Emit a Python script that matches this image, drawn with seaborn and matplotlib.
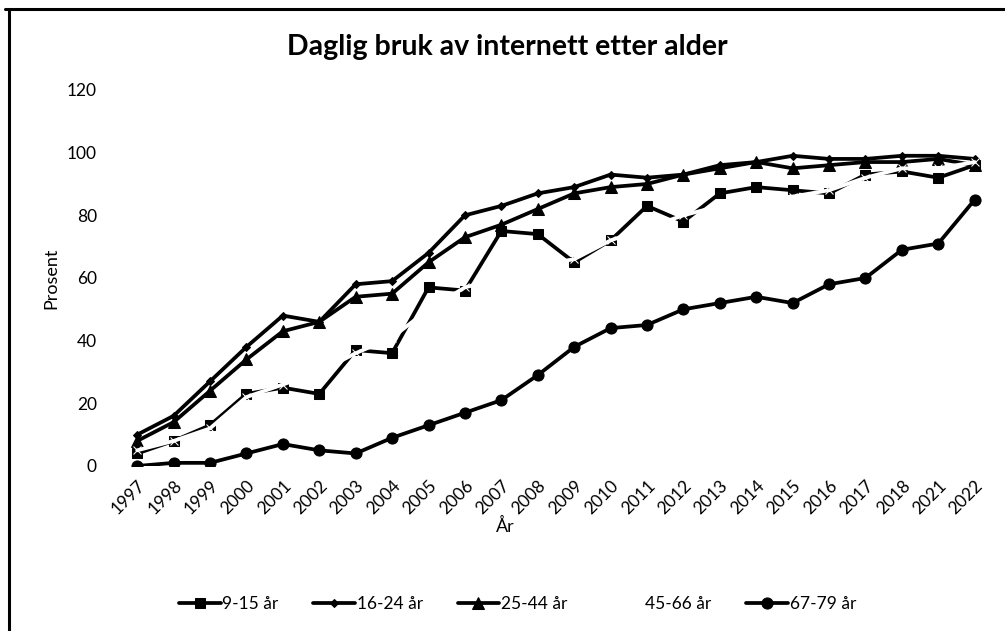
"""Daglig bruk av internett etter alder - line chart."""
import matplotlib
matplotlib.use("Agg")
import matplotlib.pyplot as plt
from matplotlib.lines import Line2D
import numpy as np
import pandas as pd
import seaborn as sns

years = ["1997", "1998", "1999", "2000", "2001", "2002", "2003", "2004",
         "2005", "2006", "2007", "2008", "2009", "2010", "2011", "2012",
         "2013", "2014", "2015", "2016", "2017", "2018", "2021", "2022"]

age_9_15 = [4, 8, 13, 23, 25, 23, 37, 36, 57, 56, 75, 74,
            65, 72, 83, 78, 87, 89, 88, 87, 93, 94, 92, 96]
age_16_24 = [10, 16, 27, 38, 48, 46, 58, 59, 68, 80, 83, 87,
             89, 93, 92, 93, 96, 97, 99, 98, 98, 99, 99, 98]
age_25_44 = [8, 14, 24, 34, 43, 46, 54, 55, 65, 73, 77, 82,
             87, 89, 90, 93, 95, 97, 95, 96, 97, 97, 98, 96]
age_45_66 = [5, 8, 12, 22, 26, 30, 36, 41, 50, 57, 60, 64,
             66, 72, 76, 80, 83, 85, 86, 88, 92, 95, 95, 97]
age_67_79 = [0, 1, 1, 4, 7, 5, 4, 9, 13, 17, 21, 29,
             38, 44, 45, 50, 52, 54, 52, 58, 60, 69, 71, 85]

series = {
    "9-15 år": age_9_15,
    "16-24 år": age_16_24,
    "25-44 år": age_25_44,
    "45-66 år": age_45_66,
    "67-79 år": age_67_79,
}
styles = {
    "9-15 år": dict(color="black", marker="s", markersize=7.5),
    "16-24 år": dict(color="black", marker="D", markersize=4),
    "25-44 år": dict(color="black", marker="^", markersize=8),
    "45-66 år": dict(color="white", marker="x", markersize=6),
    "67-79 år": dict(color="black", marker="o", markersize=8),
}

sns.set_theme(style="white")
plt.rcParams["font.family"] = ["Lato", "DejaVu Sans"]
plt.rcParams["text.color"] = "black"
plt.rcParams["axes.labelcolor"] = "black"
plt.rcParams["xtick.color"] = "black"
plt.rcParams["ytick.color"] = "black"

pos = np.arange(len(years))
df = pd.DataFrame({"pos": pos, **series})

fig = plt.figure(figsize=(10.05, 6.31), dpi=100)
ax = fig.add_axes([0.1184, 0.2615, 0.8696, 0.5959])

for name in series:
    st = styles[name]
    sns.lineplot(data=df, x="pos", y=name, ax=ax, color=st["color"],
                 marker=st["marker"], markersize=st["markersize"],
                 markeredgecolor=st["color"], markerfacecolor=st["color"],
                 linewidth=2.7, label=name)

ax.set_xlim(-0.5, len(years) - 0.5)
ax.set_ylim(0, 120)
ax.set_yticks(range(0, 121, 20))
ax.set_xticks(pos)
ax.set_xticklabels(years, rotation=45, ha="right", rotation_mode="anchor")
ax.tick_params(axis="x", length=0, pad=8, labelsize=12.5)
ax.tick_params(axis="y", length=0, pad=16, labelsize=12.5)
for s in ax.spines.values():
    s.set_visible(False)
ax.grid(False)

ax.set_xlabel("")
ax.set_ylabel("Prosent", fontsize=13, labelpad=5)
fig.text(0.503, 0.166, "År", ha="center", va="center", fontsize=13)
fig.text(0.505, 0.925, "Daglig bruk av internett etter alder",
         ha="center", va="center", fontsize=20.5, fontweight="bold")

leg = ax.legend(loc="center", bbox_to_anchor=(0.515, 0.043), bbox_transform=fig.transFigure,
                ncol=5, frameon=False, fontsize=12.5, handlelength=2.4,
                handletextpad=0.1, columnspacing=2.0)

# frame lines (top and left edge of the original chart box)
fig.add_artist(Line2D([5 / 1005, 1], [1 - 8.5 / 631, 1 - 8.5 / 631],
                      transform=fig.transFigure, color="black", linewidth=2.2))
fig.add_artist(Line2D([8.5 / 1005, 8.5 / 1005], [0, 1 - 8.5 / 631],
                      transform=fig.transFigure, color="black", linewidth=2.2))

fig.savefig("out.png", dpi=100)
plt.close(fig)
